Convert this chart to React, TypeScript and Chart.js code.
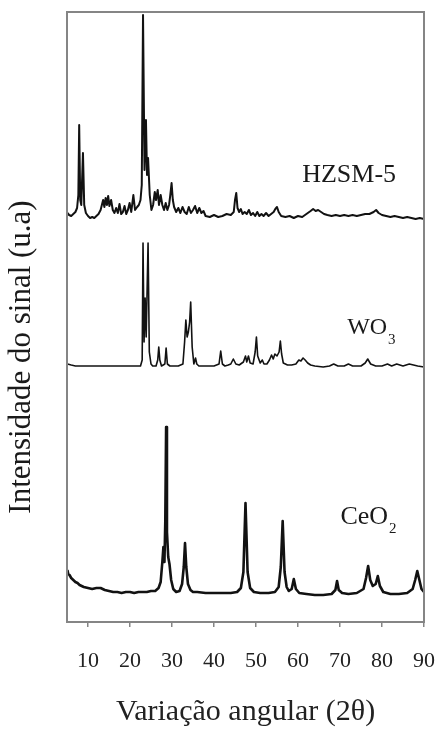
import { useEffect, useRef } from "react";
import { Chart, registerables } from "chart.js";

Chart.register(...registerables);

const SERIF = "'Liberation Serif', 'Times New Roman', Times, serif";

// 2θ tick labels on the bottom axis
const angleTicks = [10, 20, 30, 40, 50, 60, 70, 80, 90];

// HZSM-5 pattern (2θ, stacked intensity in u.a.)
const hzsmAngles = [
  5.1, 5.5, 6.0, 6.5, 7.0, 7.4, 7.7, 7.9, 8.15, 8.4,
  8.8, 9.1, 9.5, 10.0, 10.5, 11.0, 11.5, 12.0, 12.5, 13.0,
  13.3, 13.6, 13.9, 14.2, 14.5, 14.8, 15.1, 15.5, 15.9, 16.3,
  16.7, 17.1, 17.5, 17.9, 18.3, 18.7, 19.1, 19.5, 19.9, 20.3,
  20.8, 21.2, 21.7, 22.1, 22.5, 22.8, 23.1, 23.45, 23.8, 24.05,
  24.3, 24.7, 25.1, 25.5, 25.9, 26.2, 26.6, 26.9, 27.3, 27.7,
  28.1, 28.5, 28.9, 29.3, 29.6, 29.9, 30.2, 30.5, 31.0, 31.5,
  32.0, 32.5, 33.0, 33.5, 34.0, 34.5, 35.0, 35.5, 36.0, 36.5,
  37.0, 37.5, 38.0, 39.0, 40.0, 41.0, 42.0, 43.0, 44.0, 44.7,
  45.0, 45.3, 45.6, 46.0, 46.4, 46.8, 47.3, 47.8, 48.3, 48.8,
  49.3, 49.8, 50.3, 50.8, 51.3, 51.8, 52.4, 53.0, 53.6, 54.2,
  54.6, 55.0, 55.4, 56.0, 57.0, 58.0, 59.0, 60.0, 61.0, 62.0,
  63.0, 63.6, 64.2, 64.8, 65.5, 66.2, 67.0, 68.0, 69.0, 70.0,
  71.0, 72.0, 73.0, 74.0, 75.0, 76.0, 77.0, 78.0, 78.6, 79.2,
  80.0, 81.0, 82.0, 83.0, 84.0, 85.0, 86.0, 87.0, 88.0, 89.0,
  90.0,
];
const hzsmIntensity = [
  409, 407, 406, 408, 410, 414, 427, 497, 422, 417,
  469, 417, 409, 406, 404, 405, 404, 406, 408, 412,
  417, 422, 415, 424, 417, 426, 416, 422, 412, 409,
  414, 409, 418, 408, 410, 416, 408, 412, 419, 410,
  427, 412, 415, 417, 422, 437, 607, 452, 502, 447,
  464, 427, 412, 417, 430, 422, 432, 417, 427, 417,
  412, 419, 412, 417, 427, 439, 422, 415, 410, 414,
  409, 415, 410, 408, 415, 409, 412, 416, 409, 414,
  409, 411, 406, 405, 407, 405, 406, 408, 407, 410,
  422, 429, 414, 410, 413, 408, 410, 408, 412, 407,
  409, 406, 410, 406, 408, 406, 409, 406, 408, 410,
  413, 415, 410, 406, 405, 406, 404, 406, 405, 408,
  411, 413, 411, 412, 410, 408, 407, 406, 407, 406,
  407, 406, 407, 406, 407, 408, 408, 410, 412, 409,
  407, 406, 405, 406, 405, 404, 405, 404, 403, 404,
  403,
];

// WO3 pattern
const wo3Angles = [
  5.1, 6.0, 7.0, 9.0, 12.0, 15.0, 18.0, 20.0, 22.5, 22.9,
  23.1, 23.35, 23.6, 23.85, 24.3, 24.6, 25.0, 25.4, 26.2, 26.6,
  26.85, 27.1, 27.5, 28.3, 28.6, 28.9, 29.5, 31.5, 32.6, 33.0,
  33.3, 33.6, 33.9, 34.2, 34.45, 34.8, 35.2, 35.6, 35.9, 36.4,
  40.0, 41.2, 41.6, 42.0, 42.6, 43.4, 44.0, 44.6, 45.2, 46.0,
  47.0, 47.5, 47.8, 48.2, 48.6, 49.3, 49.8, 50.1, 50.4, 51.0,
  51.5, 51.9, 52.6, 53.2, 53.7, 54.1, 54.5, 55.0, 55.5, 55.8,
  56.1, 56.5, 57.5, 58.5, 59.5, 60.2, 60.7, 61.2, 61.7, 62.3,
  63.0, 64.0, 66.0, 67.5, 68.5, 69.5, 71.0, 72.0, 73.0, 75.0,
  76.0, 76.6, 77.3, 78.5, 80.0, 81.3, 82.3, 83.5, 85.0, 86.5,
  87.5, 88.5, 90.0,
];
const wo3Intensity = [
  258, 257, 256, 256, 256, 256, 256, 256, 256, 262,
  379, 280, 324, 285, 379, 270, 258, 256, 256, 262,
  275, 262, 256, 258, 274, 258, 256, 256, 258, 280,
  302, 285, 290, 300, 320, 275, 258, 264, 258, 256,
  256, 258, 271, 258, 256, 257, 258, 263, 258, 257,
  260, 266, 260, 266, 259, 258, 270, 285, 266, 259,
  262, 258, 258, 262, 267, 263, 268, 266, 270, 281,
  268, 259, 257, 257, 258, 262, 261, 264, 262, 259,
  257, 256, 255, 256, 258, 256, 256, 258, 256, 256,
  259, 263, 258, 256, 256, 258, 256, 258, 256, 258,
  257, 256, 255,
];

// CeO2 pattern
const ceo2Angles = [
  5.1, 5.3, 5.6, 6.0, 6.5, 7.0, 7.5, 8.0, 9.0, 10.0,
  11.0, 12.0, 13.0, 14.0, 15.0, 16.0, 17.0, 18.0, 19.0, 20.0,
  21.0, 22.0, 23.0, 24.0, 25.0, 26.0, 26.8, 27.3, 27.7, 27.95,
  28.2, 28.4, 28.6, 28.8, 29.1, 29.4, 29.8, 30.3, 31.0, 31.8,
  32.4, 32.8, 33.1, 33.4, 33.8, 34.4, 35.0, 36.0, 38.0, 40.0,
  42.0, 44.0, 45.5, 46.4, 47.0, 47.5, 48.0, 48.6, 49.5, 51.0,
  53.0, 54.5, 55.4, 55.9, 56.35, 56.8, 57.3, 57.8, 58.5, 59.0,
  59.5, 60.3, 62.0, 64.0, 66.0, 68.0, 68.9, 69.3, 69.7, 70.5,
  72.0, 74.0, 75.6, 76.2, 76.7, 77.2, 77.8, 78.5, 79.0, 79.5,
  80.3, 82.0, 84.0, 86.0, 87.3, 87.9, 88.4, 88.9, 89.4, 90.0,
];
const ceo2Intensity = [
  52, 48, 47, 44, 42, 40, 39, 37, 35, 34,
  33, 34, 34, 32, 31, 30, 30, 29, 30, 30,
  29, 30, 30, 30, 31, 31, 34, 40, 60, 75,
  60, 100, 195, 90, 65, 58, 42, 33, 30, 31,
  38, 55, 79, 55, 38, 32, 30, 30, 29, 29,
  29, 29, 30, 34, 50, 119, 50, 34, 30, 29,
  29, 30, 35, 55, 101, 50, 35, 31, 33, 43,
  33, 29, 28, 27, 27, 28, 32, 41, 32, 29,
  28, 29, 33, 44, 56, 42, 36, 38, 46, 36,
  30, 28, 28, 29, 33, 42, 51, 42, 33, 30,
];

// Sample names drawn next to each trace (main text + subscript)
const sampleNames = ["HZSM-5", "WO", "CeO"];
const sampleSubscripts = ["", "3", "2"];

const toPoints = (xs: number[], ys: number[]) => xs.map((x, i) => ({ x, y: ys[i] }));

const framePlugin = {
  id: "frameAndLabels",
  afterDatasetsDraw(chart: any) {
    const { ctx, chartArea, scales } = chart;
    const xs = scales.x;
    const ys = scales.y;
    ctx.save();

    // plot frame
    ctx.strokeStyle = "#858585";
    ctx.lineWidth = 2;
    ctx.strokeRect(chartArea.left, chartArea.top, chartArea.right - chartArea.left, chartArea.bottom - chartArea.top);

    // sample labels, anchored in data units (2θ, u.a.)
    const anchors = [
      { x: 61.0, y: 440, size: 26, sub: 0, subDy: 0 },
      { x: 71.7, y: 288, size: 24, sub: 15, subDy: 10 },
      { x: 70.1, y: 98, size: 26, sub: 15, subDy: 9 },
    ];
    ctx.fillStyle = "#1a1a1a";
    ctx.textAlign = "left";
    ctx.textBaseline = "alphabetic";
    sampleNames.forEach((name, i) => {
      const a = anchors[i];
      const px = xs.getPixelForValue(a.x);
      const py = ys.getPixelForValue(a.y);
      ctx.font = `${a.size}px ${SERIF}`;
      ctx.fillText(name, px, py);
      if (sampleSubscripts[i]) {
        const w = ctx.measureText(name).width;
        ctx.font = `${a.sub}px ${SERIF}`;
        ctx.fillText(sampleSubscripts[i], px + w + 1, py + a.subDy);
      }
    });

    // vertical axis title
    ctx.font = `31px ${SERIF}`;
    ctx.textAlign = "center";
    ctx.textBaseline = "middle";
    ctx.translate(22, 357);
    ctx.rotate(-Math.PI / 2);
    ctx.fillText("Intensidade do sinal (u.a)", 0, 0);
    ctx.restore();
  },
};

export default function App() {
  const canvasRef = useRef<HTMLCanvasElement | null>(null);

  useEffect(() => {
    const canvas = canvasRef.current;
    if (!canvas) return;
    const lineColor = "#121212";
    const chart = new Chart(canvas, {
      type: "line",
      data: {
        datasets: [
          {
            label: "HZSM-5",
            data: toPoints(hzsmAngles, hzsmIntensity),
            borderColor: lineColor,
            borderWidth: 2,
            pointRadius: 0,
            tension: 0,
            borderJoinStyle: "round",
          },
          {
            label: "WO3",
            data: toPoints(wo3Angles, wo3Intensity),
            borderColor: lineColor,
            borderWidth: 1.6,
            pointRadius: 0,
            tension: 0,
            borderJoinStyle: "round",
          },
          {
            label: "CeO2",
            data: toPoints(ceo2Angles, ceo2Intensity),
            borderColor: lineColor,
            borderWidth: 2.6,
            pointRadius: 0,
            tension: 0,
            borderJoinStyle: "round",
          },
        ],
      },
      options: {
        animation: false,
        responsive: false,
        maintainAspectRatio: false,
        layout: { padding: { left: 67, right: 14, top: 12, bottom: 0 } },
        plugins: {
          legend: { display: false },
          tooltip: { enabled: false },
        },
        scales: {
          x: {
            type: "linear",
            min: 5,
            max: 90,
            afterBuildTicks: (scale: any) => {
              scale.ticks = angleTicks.map((v) => ({ value: v }));
            },
            ticks: {
              autoSkip: false,
              maxRotation: 0,
              padding: 3,
              color: "#222",
              font: { family: SERIF, size: 22, lineHeight: 2.8 },
              callback: (v: any) => String(v),
            },
            grid: {
              display: true,
              drawOnChartArea: false,
              drawTicks: true,
              tickLength: 5,
              color: "#858585",
              lineWidth: 1.5,
            },
            border: { display: false },
            title: {
              display: true,
              text: "Variação angular (2θ)",
              color: "#222",
              font: { family: SERIF, size: 30, lineHeight: 1 },
              padding: { top: 2.4, bottom: 4 },
            },
          },
          y: {
            display: false,
            min: 0,
            max: 610,
          },
        },
      },
      plugins: [framePlugin],
    });
    return () => chart.destroy();
  }, []);

  return (
    <div
      style={{
        position: "fixed",
        left: 0,
        top: 0,
        width: 438,
        height: 731,
        background: "#fff",
      }}
    >
      <canvas ref={canvasRef} width={438} height={731} style={{ width: 438, height: 731, display: "block" }} />
    </div>
  );
}
